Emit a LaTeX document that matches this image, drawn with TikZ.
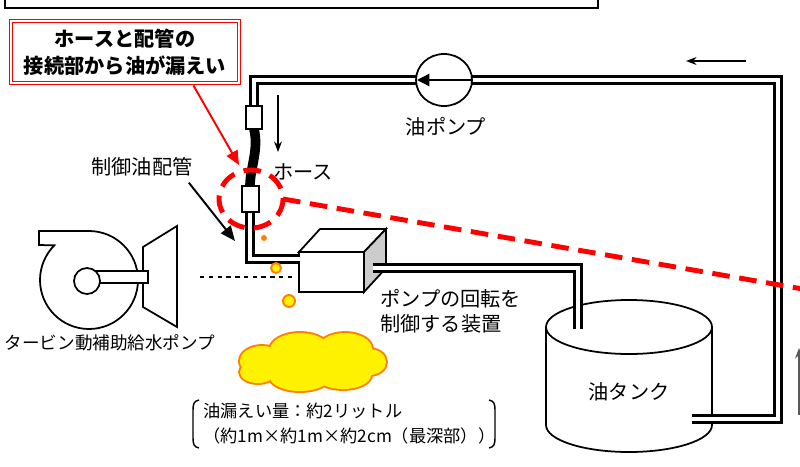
\documentclass[tikz,border=0pt]{standalone}
\usepackage{fontspec}
\newfontfamily\jp{Noto Sans CJK JP}
\usetikzlibrary{arrows.meta,calc}

\tikzset{
  pipe/.style={line width=1.8pt,double=white,double distance=2pt},
  txt/.style={font=\jp\fontsize{11.5pt}{14pt}\selectfont,inner sep=0pt},
  small/.style={font=\jp\fontsize{9.8pt}{14.2pt}\selectfont,inner sep=0pt},
  leak/.style={red,line width=2.8pt,dash pattern=on 10pt off 5.5pt},
  drop/.style={draw=orange,fill=yellow,line width=1.1pt},
  flow/.style={line width=0.6pt,-{Stealth[length=6pt,width=4.5pt]}},
  fitting/.style={draw,fill=white,line width=1.1pt},
  outline/.style={line width=1pt,fill=white},
}
\newcommand\puffs[1]{%
  \foreach \cx/\cy/\rx/\ry in {262/361/22/15,300/350/30/17,345/349/27/16,369/362/17/13,
      343/375/28/14,300/377/30/14,258/372/18/11}{#1}}

\begin{document}
\begin{tikzpicture}[x=0.02cm,y=-0.02cm]
    \useasboundingbox (0,0) rectangle (800,466);
    \clip (0,0) rectangle (800,466);
    \draw[line width=1.1pt] (5,-10) rectangle (598,8);

    % turbine driven pump
    \draw[outline] (143,247) -- (177,226) -- (177,327) -- (143,307) -- cycle;
    \draw[outline] (89,231) arc[start angle=-90,end angle=225,radius=49] -- (39,245) -- (39,231) -- cycle;
    \draw[outline] (95,271) rectangle (148,283);
    \draw[outline] (87,281) circle[radius=13];
    \node[small,font=\jp\fontsize{10pt}{14pt}\selectfont] (tdpump) at (110,343) {タービン動補助給水ポンプ};
    \draw[line width=0.6pt,dash pattern=on 2.5pt off 2.5pt] (200,277) -- (296,277);

    % oil tank
    \draw[outline] (546,327) -- (546,425) arc[start angle=180,end angle=0,x radius=83,y radius=27] -- (712,327);
    \draw[line width=1pt] (629,327) ellipse[x radius=83,y radius=27];
    \node[txt] (tank) at (629,392) {油タンク};

    % control device
    \draw[outline] (299,252) rectangle (364,292);
    \draw[outline] (299,252) -- (320,229) -- (386,229) -- (364,252) -- cycle;
    \draw[line width=1pt,fill=gray!40] (364,252) -- (386,229) -- (386,268) -- (364,292) -- cycle;
    \node[txt,anchor=west,align=left] (unit) at (380,311) {ポンプの回転を\\制御する装置};

    % piping
    \draw[pipe] (254,106) -- (254,80) -- (778,80) -- (778,419) -- (692,419);
    \draw[pipe] (250,212) -- (250,259) -- (300,259);
    \draw[pipe] (373,268) -- (578,268) -- (578,329);

    % oil pump
    \coordinate (oilpump) at (444,80);
    \draw[outline] (oilpump) ellipse[x radius=28,y radius=26];
    \draw[line width=0.8pt,-{Triangle[length=7pt,width=7pt]}] (472,80) -- (417,80);
    \node[txt] (oilpumplbl) at (446,127) {油ポンプ};

    % hose
    \draw[line width=5.5pt] (254,129) .. controls (259,150) and (250,168) .. (250,186);
    \draw[fitting] (246,106) rectangle (262,129);
    \draw[fitting] (242,186) rectangle (259,212);
    \node[txt] (hose) at (303,172) {ホース};

    \draw[flow] (278,95) -- (278,152);
    \draw[flow] (746,61) -- (686,61);
    \draw[flow,gray!70!black] (799,415) -- (799,348);

    % leak
    \draw[leak] (251,199) ellipse[x radius=32,y radius=29];
    \draw[leak] (283,199) -- (820,292);
    \fill[orange] (264,238) circle[radius=3];
    \draw[drop] (276,268) circle[radius=5];
    \draw[drop] (289,301) circle[radius=6];
    \puffs{\draw[orange,line width=2.2pt] (\cx,\cy) ellipse[x radius=\rx,y radius=\ry];}
    \puffs{\fill[yellow] (\cx,\cy) ellipse[x radius=\rx,y radius=\ry];}
    \fill[yellow] (312,362) ellipse[x radius=55,y radius=17];
    \coordinate (puddle) at (312,361);

    \node[small,anchor=west,align=left] (amount) at (203,424) {油漏えい量：約2リットル\\（約1m×約1m×約2cm（最深部））};
    \draw[line width=0.8pt] (199,400) .. controls (194,401) and (193,404) .. (193,410) -- (193,438)
        .. controls (193,444) and (194,447) .. (199,448);
    \draw[line width=0.8pt] (489,400) .. controls (494,401) and (495,404) .. (495,410) -- (495,438)
        .. controls (495,444) and (494,447) .. (489,448);

    \node[txt] (ctrlpipe) at (142,167) {制御油配管};
    \draw[line width=1.1pt,-{Triangle[length=8.5pt,width=7pt]}] ($(ctrlpipe.south east)+(-4,6)$) -- (235,241);

    % callout
    \node[draw=red,double=white,double distance=0.8pt,line width=0.5pt,fill=white,
          minimum width=4.56cm,minimum height=1.24cm,align=center,
          font=\jp\bfseries\fontsize{11.5pt}{15.3pt}\selectfont] (callout) at (125,52)
          {ホースと配管の\\接続部から油が漏えい};
    \coordinate (hit) at (239,165);
    \draw[red,line width=1.1pt,-{Triangle[length=8pt,width=7pt]}] ($(callout.south east)+(-46,2)$) -- (hit);
\end{tikzpicture}
\end{document}
